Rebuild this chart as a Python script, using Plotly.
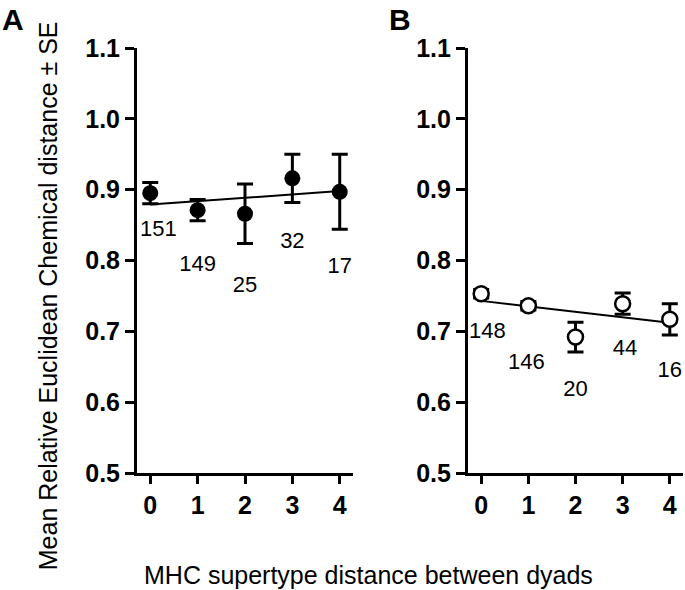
import plotly.graph_objects as go

# ---- data ----
dist = [0, 1, 2, 3, 4]
tick_labels = ["0", "1", "2", "3", "4"]
a_mean = [0.895, 0.871, 0.866, 0.916, 0.897]
a_se = [0.015, 0.015, 0.042, 0.034, 0.053]
a_n = [151, 149, 25, 32, 17]
a_fit = [0.879, 0.898]   # fitted line at distance 0 and 4

b_mean = [0.753, 0.736, 0.692, 0.739, 0.717]
b_se = [0.006, 0.006, 0.021, 0.015, 0.022]
b_n = [148, 146, 20, 44, 16]
b_fit = [0.743, 0.712]

y_ticks = [0.5, 0.6, 0.7, 0.8, 0.9, 1.0, 1.1]
y_tick_text = ["0.5", "0.6", "0.7", "0.8", "0.9", "1.0", "1.1"]

# label placement (positions of the n labels)
a_lab_x = [0.17, 1.0, 2.0, 3.0, 4.0]
a_lab_y = [0.842, 0.793, 0.763, 0.825, 0.790]
b_lab_x = [0.13, 0.96, 2.0, 3.05, 4.0]
b_lab_y = [0.698, 0.654, 0.616, 0.675, 0.644]

FONT = "Arial, Liberation Sans, sans-serif"
fig = go.Figure()

# Panel A
fig.add_trace(go.Scatter(x=[dist[0], dist[-1]], y=a_fit, mode="lines",
                         line=dict(color="black", width=2), xaxis="x", yaxis="y",
                         showlegend=False, hoverinfo="skip"))
fig.add_trace(go.Scatter(x=dist, y=a_mean, mode="markers",
                         error_y=dict(type="data", array=a_se, color="black", thickness=3, width=8),
                         marker=dict(size=16, color="black", line=dict(color="black", width=0)),
                         xaxis="x", yaxis="y", showlegend=False, cliponaxis=False))
fig.add_trace(go.Scatter(x=a_lab_x, y=a_lab_y, mode="text", text=[str(n) for n in a_n],
                         textfont=dict(family=FONT, size=22, color="black"),
                         xaxis="x", yaxis="y", showlegend=False, cliponaxis=False))

# Panel B
fig.add_trace(go.Scatter(x=[dist[0], dist[-1]], y=b_fit, mode="lines",
                         line=dict(color="black", width=2), xaxis="x2", yaxis="y2",
                         showlegend=False, hoverinfo="skip"))
fig.add_trace(go.Scatter(x=dist, y=b_mean, mode="markers",
                         error_y=dict(type="data", array=b_se, color="black", thickness=3, width=8),
                         marker=dict(size=15, color="white", line=dict(color="black", width=2.5)),
                         xaxis="x2", yaxis="y2", showlegend=False, cliponaxis=False))
fig.add_trace(go.Scatter(x=b_lab_x, y=b_lab_y, mode="text", text=[str(n) for n in b_n],
                         textfont=dict(family=FONT, size=22, color="black"),
                         xaxis="x2", yaxis="y2", showlegend=False, cliponaxis=False))

xax = dict(range=[-0.28, 4.28], tickvals=dist, ticktext=tick_labels, showgrid=False,
           zeroline=False, showline=True, linecolor="black", linewidth=3,
           ticks="outside", ticklen=8, tickwidth=3, tickcolor="black",
           tickfont=dict(family=FONT, size=25, color="black", weight="bold"),
           fixedrange=True)
yax = dict(range=[0.5, 1.1], tickvals=y_ticks, ticktext=y_tick_text, showgrid=False,
           zeroline=False, showline=True, linecolor="black", linewidth=3,
           ticks="outside", ticklen=9, tickwidth=3, tickcolor="black",
           tickfont=dict(family=FONT, size=25, color="black", weight="bold"),
           fixedrange=True)

fig.update_layout(
    width=685, height=590,
    margin=dict(l=137, r=2, t=48, b=117),
    paper_bgcolor="white", plot_bgcolor="white",
    xaxis=dict(xax, domain=[0, 0.3956], anchor="y"),
    yaxis=dict(yax, domain=[0, 1], anchor="x"),
    xaxis2=dict(xax, domain=[0.6062, 1], anchor="y2"),
    yaxis2=dict(yax, domain=[0, 1], anchor="x2"),
    annotations=[
        dict(text="Mean Relative Euclidean Chemical distance ± SE", textangle=-90,
             xref="paper", yref="paper", x=-0.163, y=0.416, xanchor="center", yanchor="middle",
             showarrow=False, font=dict(family=FONT, size=25, color="black")),
        dict(text="MHC supertype distance between dyads",
             xref="paper", yref="paper", x=0.424, y=-0.24, xanchor="center", yanchor="middle",
             showarrow=False, font=dict(family=FONT, size=25, color="black")),
        dict(text="<b>A</b>", xref="paper", yref="paper", x=-0.227, y=1.068,
             xanchor="center", yanchor="middle", showarrow=False,
             font=dict(family=FONT, size=30, color="black")),
        dict(text="<b>B</b>", xref="paper", yref="paper", x=0.4817, y=1.068,
             xanchor="center", yanchor="middle", showarrow=False,
             font=dict(family=FONT, size=30, color="black")),
    ],
)

# remove the default page margin so the 685x590 figure fills the window exactly
fig.write_html(
    "out.html",
    config={"displayModeBar": False, "staticPlot": True},
    post_script="document.body.style.margin='0';document.body.style.overflow='hidden';"
                "document.documentElement.style.overflow='hidden';",
)
